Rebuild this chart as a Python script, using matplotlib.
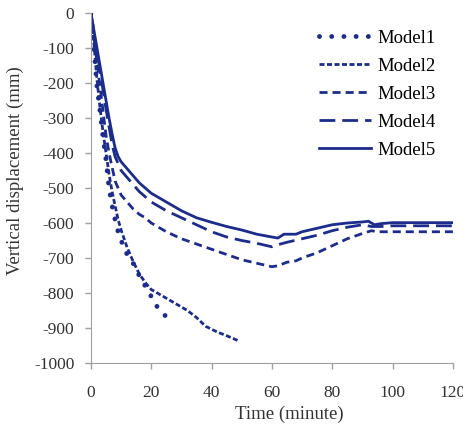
import numpy as np
import matplotlib
matplotlib.use("Agg")
import matplotlib.pyplot as plt

# data (time in minutes, displacement in mm)
t1 = [0, 1, 2, 3, 4, 5, 6, 7, 8, 9, 10, 12, 14, 16, 18, 20, 22, 24, 26]
d1 = [0, -100, -210, -280, -355, -420, -500, -550, -590, -625, -650, -690, -715, -750, -780, -810, -840, -860, -875]

t2 = [0, 1, 2, 3, 4, 5, 6, 7, 8, 9, 10, 12, 14, 16, 18, 20, 22, 25, 28, 32, 35, 38, 42, 45, 49]
d2 = [0, -90, -190, -270, -340, -400, -460, -510, -550, -590, -620, -670, -710, -745, -770, -790, -800, -815,
      -830, -850, -870, -895, -912, -922, -937]

t3 = [0, 1, 2, 3, 4, 5, 6, 7, 8, 9, 10, 12, 14, 16, 18, 20, 25, 30, 35, 40, 45, 50, 55, 60, 62, 65, 68,
      70, 75, 80, 85, 90, 93, 95, 100, 120]
d3 = [0, -70, -140, -210, -280, -350, -400, -440, -480, -500, -520, -540, -560, -575, -585, -600, -625, -645,
      -660, -675, -690, -705, -715, -725, -722, -712, -708, -700, -685, -665, -645, -630, -622, -625, -625, -625]

t4 = [0, 1, 2, 3, 4, 5, 6, 7, 8, 9, 10, 12, 14, 16, 18, 20, 25, 30, 35, 40, 45, 50, 55, 60, 62, 65, 70,
      75, 80, 85, 90, 93, 96, 100, 120]
d4 = [0, -60, -110, -165, -220, -275, -325, -375, -410, -430, -450, -470, -490, -510, -525, -540, -565, -585,
      -605, -625, -640, -650, -658, -668, -662, -655, -645, -635, -622, -612, -605, -610, -610, -608, -608]

t5 = [0, 1, 2, 3, 4, 5, 6, 7, 8, 9, 10, 12, 14, 16, 18, 20, 25, 30, 35, 40, 45, 50, 55, 60, 62, 64, 66,
      68, 70, 75, 80, 85, 90, 92, 94, 96, 100, 120]
d5 = [0, -50, -100, -150, -200, -250, -300, -345, -385, -410, -425, -445, -465, -485, -500, -515, -540, -565,
      -585, -598, -610, -620, -632, -640, -643, -632, -632, -632, -625, -615, -605, -600, -597, -595, -605,
      -602, -599, -599]

labels = ["Model1", "Model2", "Model3", "Model4", "Model5"]
xticks = [0, 20, 40, 60, 80, 100, 120]
yticks = list(range(0, -1100, -100))

plt.rcParams['font.family'] = ['Liberation Serif', 'DejaVu Serif']
plt.rcParams['axes.unicode_minus'] = False
col = '#1c2c8c'
txt = '#333333'

fig = plt.figure(figsize=(4.64, 4.34), dpi=100)
ax = fig.add_axes([0.196, 0.1636, 0.78, 0.8064])

ax.plot(t1, d1, color=col, lw=3.5, linestyle=(0, (0.01, 2.5)), dash_capstyle='round', label=labels[0])
ax.plot(t2, d2, color=col, lw=2, linestyle=(0, (1.8, 0.9)), label=labels[1])
ax.plot(t3, d3, color=col, lw=2, linestyle=(0, (2.9, 1.8)), label=labels[2])
ax.plot(t4, d4, color=col, lw=2, linestyle=(0, (5.7, 2.5)), label=labels[3])
ax.plot(t5, d5, color=col, lw=2, linestyle='-', label=labels[4])

ax.set_xlim(0, 120)
ax.set_ylim(-1000, 0)
ax.set_xticks(xticks)
ax.set_yticks(yticks)
ax.tick_params(colors='#a0a0a0', labelcolor=txt, labelsize=12.5, length=4, width=1)
ax.tick_params(axis='x', pad=12)
ax.tick_params(axis='y', pad=8)
for s in ['top', 'right']:
    ax.spines[s].set_visible(False)
for s in ['left', 'bottom']:
    ax.spines[s].set_color('#a0a0a0')

ax.set_xlabel('Time (minute)', fontsize=13.5, color=txt)
ax.set_ylabel('Vertical displacement (mm)', fontsize=13.5, color=txt)
ax.xaxis.set_label_coords(0.547, -0.123)
ax.yaxis.set_label_coords(-0.185, 0.551)

ax.legend(loc='upper right', frameon=False, fontsize=13.5, handlelength=2.8, labelspacing=0.58,
          handletextpad=0.35, bbox_to_anchor=(1.0, 1.0), borderaxespad=0.5)

fig.savefig('out.png', dpi=100)
